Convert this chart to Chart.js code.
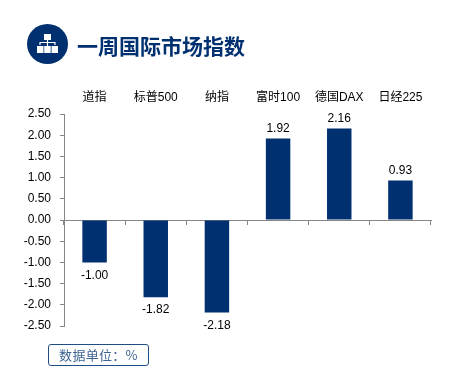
<!DOCTYPE html>
<html>
<head>
<meta charset="utf-8">
<script src="https://cdn.jsdelivr.net/npm/chart.js@4"></script>
<style>
  html, body { margin: 0; padding: 0; background: #fff; }
  #wrap { position: relative; width: 468px; height: 390px; overflow: hidden; }
  #chart { position: absolute; left: 0; top: 0; }
  #icon { position: absolute; left: 27px; top: 24px; }
  #title { position: absolute; left: 77px; top: 30px; font: bold 21px/30px "Noto Sans CJK SC"; color: #003070; white-space: nowrap; }
  #unit { position: absolute; left: 48px; top: 344px; width: 99px; height: 20px; border: 1px solid #1f4e85; border-radius: 3px;
    font: 13px/20px "Noto Sans CJK SC"; color: #3f6393; text-align: center; letter-spacing: 0.3px; white-space: nowrap; }
</style>
</head>
<body>
<div id="wrap">
  <canvas id="chart" width="468" height="390"></canvas>
  <svg id="icon" width="41" height="40" viewBox="0 0 41 40">
    <ellipse cx="20.5" cy="20" rx="20.5" ry="20" fill="#003070"/>
    <g fill="#fff">
      <rect x="17" y="10" width="7" height="6"/>
      <rect x="10" y="22" width="6.5" height="7"/>
      <rect x="17.2" y="22" width="6.5" height="7"/>
      <rect x="24.5" y="22" width="6.5" height="7"/>
    </g>
    <path d="M20.5 16v6M13 21v-2.5h15V21" stroke="#fff" stroke-width="1.2" fill="none"/>
  </svg>
  <div id="title">一周国际市场指数</div>
  <div id="unit">数据单位：%</div>
</div>
<script>
const categories = ['道指', '标普500', '纳指', '富时100', '德国DAX', '日经225']
const values = [-1.00, -1.82, -2.18, 1.92, 2.16, 0.93]
const yMin = -2.5
const yMax = 2.5
const yStep = 0.5

const barColor = '#003070'
const axisColor = '#868686'
const latin = '"Liberation Sans", "Noto Sans CJK SC"'

// 柱子上的数值标签
const valueLabels = {
  id: 'valueLabels',
  afterDatasetsDraw(chart) {
    const ctx = chart.ctx
    ctx.save()
    ctx.font = '12px ' + latin
    ctx.fillStyle = '#000'
    ctx.textAlign = 'center'
    chart.getDatasetMeta(0).data.forEach((bar, i) => {
      const v = values[i]
      ctx.textBaseline = v < 0 ? 'top' : 'bottom'
      ctx.fillText(v.toFixed(2), bar.x, v < 0 ? bar.y + 7 : bar.y - 4)
    })
    ctx.restore()
  }
}

new Chart(document.getElementById('chart'), {
  type: 'bar',
  data: {
    labels: categories,
    datasets: [{
      data: values,
      backgroundColor: barColor,
      barPercentage: 0.4,
      categoryPercentage: 1
    }]
  },
  plugins: [valueLabels],
  options: {
    responsive: false,
    animation: false,
    layout: { padding: { left: 0, top: 87, right: 37, bottom: 64 } },
    plugins: { legend: { display: false }, tooltip: { enabled: false } },
    scales: {
      x: {
        position: 'top',
        grid: { display: false },
        border: { display: false },
        ticks: { color: '#000', font: { size: 12, family: latin }, maxRotation: 0, autoSkip: false, padding: 1 },
        afterFit(scale) { scale.height = 27 }
      },
      // 零线
      x2: {
        type: 'category',
        labels: categories,
        position: { y: 0 },
        grid: { drawOnChartArea: false, color: axisColor, tickLength: 4 },
        border: { color: axisColor },
        ticks: { display: false }
      },
      y: {
        min: yMin,
        max: yMax,
        grid: { drawOnChartArea: false, color: axisColor, tickLength: 4 },
        border: { color: axisColor },
        ticks: {
          stepSize: yStep,
          color: '#000',
          font: { size: 12, family: latin },
          padding: 9,
          callback: v => v.toFixed(2)
        },
        afterFit(scale) { scale.width = 64 }
      }
    }
  }
})
</script>
</body>
</html>
